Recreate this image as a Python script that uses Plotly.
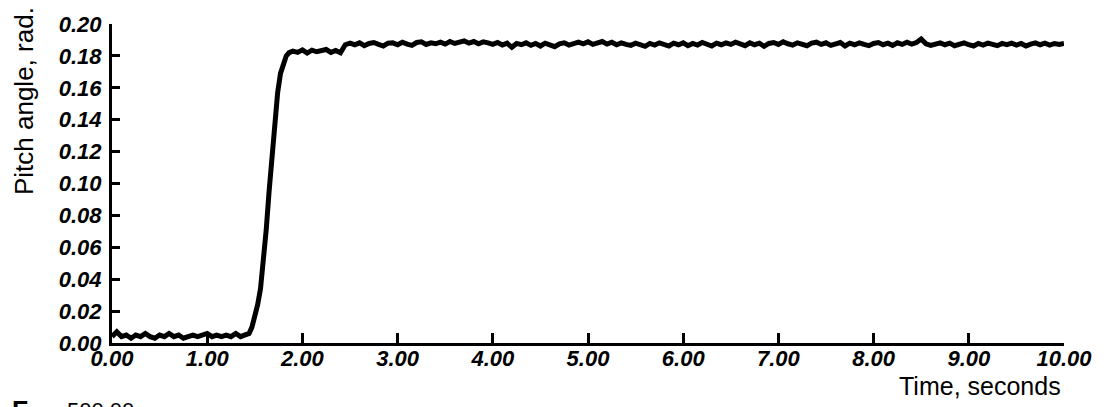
import plotly.graph_objects as go

# Baseline segment (t = 0.00 .. 1.40, step 0.05)
base_t = [round(0.05 * i, 2) for i in range(29)]
base_v = [0.004, 0.007, 0.004, 0.005, 0.003, 0.005, 0.004, 0.006, 0.004, 0.003,
          0.005, 0.004, 0.006, 0.004, 0.005, 0.003, 0.004, 0.005, 0.004, 0.005,
          0.006, 0.004, 0.005, 0.004, 0.005, 0.004, 0.006, 0.004, 0.005]

# Rise segment
rise_t = [1.44, 1.47, 1.50, 1.53, 1.56, 1.59, 1.62, 1.65, 1.68, 1.71, 1.74, 1.77, 1.80, 1.83, 1.86]
rise_v = [0.006, 0.010, 0.016, 0.024, 0.034, 0.050, 0.071, 0.095, 0.119, 0.140,
          0.157, 0.169, 0.176, 0.180, 0.182]

# First plateau (t = 1.90 .. 2.40, step 0.05)
plat1_t = [round(1.90 + 0.05 * i, 2) for i in range(11)]
plat1_v = [0.1830, 0.1822, 0.1838, 0.1818, 0.1836, 0.1826, 0.1832, 0.1840, 0.1822, 0.1834, 0.1820]

# Second plateau (t = 2.45 .. 10.00, step 0.05)
plat2_t = [round(2.45 + 0.05 * i, 2) for i in range(152)]
plat2_v = [
    0.1870, 0.1880, 0.1870, 0.1882, 0.1864, 0.1878, 0.1884, 0.1872, 0.1862, 0.1880,
    0.1882, 0.1870, 0.1886, 0.1874, 0.1866, 0.1884, 0.1888, 0.1872, 0.1882, 0.1876,
    0.1886, 0.1874, 0.1890, 0.1878, 0.1888, 0.1894, 0.1880, 0.1890, 0.1876, 0.1888,
    0.1882, 0.1872, 0.1884, 0.1868, 0.1880, 0.1854, 0.1878, 0.1870, 0.1882, 0.1866,
    0.1878, 0.1862, 0.1880, 0.1870, 0.1858, 0.1876, 0.1882, 0.1868, 0.1878, 0.1886,
    0.1876, 0.1888, 0.1872, 0.1884, 0.1890, 0.1874, 0.1886, 0.1870, 0.1882, 0.1872,
    0.1866, 0.1880, 0.1870, 0.1860, 0.1878, 0.1868, 0.1882, 0.1872, 0.1862, 0.1880,
    0.1870, 0.1882, 0.1864, 0.1878, 0.1868, 0.1884, 0.1872, 0.1862, 0.1880, 0.1870,
    0.1882, 0.1872, 0.1886, 0.1874, 0.1864, 0.1882, 0.1870, 0.1880, 0.1860, 0.1878,
    0.1884, 0.1872, 0.1888, 0.1876, 0.1868, 0.1882, 0.1874, 0.1864, 0.1880, 0.1886,
    0.1872, 0.1882, 0.1866, 0.1878, 0.1884, 0.1862, 0.1880, 0.1870, 0.1882, 0.1872,
    0.1864, 0.1878, 0.1884, 0.1870, 0.1880, 0.1866, 0.1882, 0.1872, 0.1886, 0.1874,
    0.1884, 0.1906, 0.1876, 0.1866, 0.1878, 0.1882, 0.1870, 0.1880, 0.1864, 0.1874,
    0.1882, 0.1870, 0.1862, 0.1878, 0.1868, 0.1880, 0.1872, 0.1864, 0.1878, 0.1870,
    0.1880, 0.1868, 0.1878, 0.1862, 0.1874, 0.1882, 0.1870, 0.1880, 0.1868, 0.1878,
    0.1872, 0.1878,
]

x_ticks = [0, 1, 2, 3, 4, 5, 6, 7, 8, 9, 10]
y_ticks = [0.00, 0.02, 0.04, 0.06, 0.08, 0.10, 0.12, 0.14, 0.16, 0.18, 0.20]

t = base_t + rise_t + plat1_t + plat2_t
v = base_v + rise_v + plat1_v + plat2_v

FONT = "Liberation Sans, Arial, sans-serif"

fig = go.Figure()
fig.add_trace(go.Scatter(x=t, y=v, mode="lines",
                         line=dict(color="black", width=5, shape="linear"),
                         showlegend=False, hoverinfo="skip"))

L, R, T, B = 112, 37, 23, 64
W, H = 1104, 407
pw, ph = W - L - R, H - T - B

def px(xp):
    return (xp - L) / pw

def py(yp):
    return (H - B - yp) / ph

tickfont = dict(family=FONT, size=22, color="black", weight="bold", style="italic")

fig.update_layout(
    width=W, height=H,
    margin=dict(l=L, r=R, t=T, b=B, pad=0),
    paper_bgcolor="white", plot_bgcolor="white",
    xaxis=dict(range=[0, 10], tickvals=x_ticks, tickformat=".2f",
               showgrid=False, zeroline=False, showline=True, linecolor="black", linewidth=3,
               ticks="inside", ticklen=10, tickwidth=3, tickcolor="black",
               tickfont=tickfont, ticklabelstandoff=-6),
    yaxis=dict(range=[0, 0.2], tickvals=y_ticks, tickformat=".2f",
               showgrid=False, zeroline=False, showline=True, linecolor="black", linewidth=3,
               ticks="inside", ticklen=8, tickwidth=3, tickcolor="black",
               tickfont=tickfont, ticklabelstandoff=3),
    annotations=[
        dict(text="Pitch angle, rad.", xref="paper", yref="paper", x=px(23), y=py(100),
             xanchor="center", yanchor="middle", textangle=-90, showarrow=False,
             font=dict(family=FONT, size=26, color="black")),
        dict(text="Time, seconds", xref="paper", yref="paper", x=px(1066), y=py(386),
             xanchor="right", yanchor="middle", showarrow=False,
             font=dict(family=FONT, size=25, color="black")),
        dict(text="500.00", xref="paper", yref="paper", x=px(65), y=py(396),
             xanchor="left", yanchor="top", showarrow=False,
             font=dict(family=FONT, size=22, color="black")),
        dict(text="<b>Γ</b>", xref="paper", yref="paper", x=px(10), y=py(393),
             xanchor="left", yanchor="top", showarrow=False,
             font=dict(family=FONT, size=26, color="black")),
    ],
)

fig.write_html("out.html")
